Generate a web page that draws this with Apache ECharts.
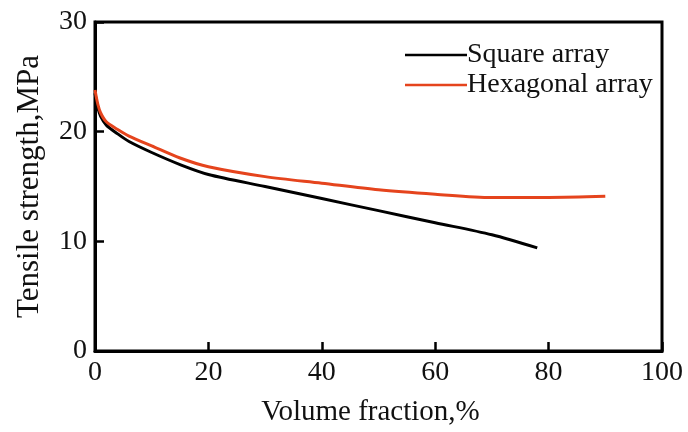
<!DOCTYPE html>
<html><head><meta charset="utf-8">
<script src="https://cdn.jsdelivr.net/npm/echarts@6/dist/echarts.min.js"></script>
<style>html,body{margin:0;padding:0;background:#fff}#c{width:688px;height:432px}</style>
</head><body><div id="c"></div>
<script>
var squareX = [0, 0.5, 1, 2, 4, 6, 10, 15, 20, 30, 40, 50, 60, 70, 78];
var squareY = [23.5, 22.2, 21.4, 20.6, 19.8, 19.1, 18.1, 17.0, 16.1, 15.0, 13.9, 12.8, 11.7, 10.6, 9.4];
var hexX = [0, 0.5, 1, 2, 4, 6, 10, 15, 20, 30, 40, 50, 60, 70, 80, 90];
var hexY = [23.8, 22.5, 21.7, 20.9, 20.2, 19.6, 18.7, 17.6, 16.8, 15.9, 15.3, 14.7, 14.3, 14.0, 14.0, 14.1];
var xTicks = [0, 20, 40, 60, 80, 100];
var yTicks = [0, 10, 20, 30];
var seriesNames = ['Square array', 'Hexagonal array'];

function pairs(xs, ys) { return xs.map(function (x, i) { return [x, ys[i]]; }); }
var font = 'Liberation Serif';
var chart = echarts.init(document.getElementById('c'));
chart.setOption({
  animation: false,
  grid: { left: 95, right: 26, top: 22, bottom: 80, show: true, borderColor: '#000', borderWidth: 3, backgroundColor: 'transparent' },
  legend: {
    orient: 'vertical', left: 405, top: 41, padding: 0, itemWidth: 62, itemHeight: 2.5, itemGap: 2,
    icon: 'rect',
    textStyle: { fontFamily: font, fontSize: 28, color: '#111', padding: [0, 0, 0, -5] },
    data: seriesNames
  },
  xAxis: {
    type: 'value', min: 0, max: 100, interval: 20,
    name: 'Volume fraction,%', nameLocation: 'middle', nameGap: 47,
    nameTextStyle: { fontFamily: font, fontSize: 29, color: '#111', padding: [0, 16, 0, 0] },
    axisLine: { lineStyle: { color: '#000', width: 3 } },
    axisTick: { inside: true, length: 9, lineStyle: { color: '#000', width: 2.5 } },
    axisLabel: { fontFamily: font, fontSize: 28, color: '#111', margin: 8,
      formatter: function (v) { return xTicks.indexOf(v) >= 0 ? String(v) : ''; } },
    splitLine: { show: false }
  },
  yAxis: {
    type: 'value', min: 0, max: 30, interval: 10,
    name: 'Tensile strength,MPa', nameLocation: 'middle', nameGap: 50,
    nameTextStyle: { fontFamily: font, fontSize: 31, color: '#111' },
    axisLine: { show: true, lineStyle: { color: '#000', width: 3 } },
    axisTick: { show: true, inside: true, length: 9, lineStyle: { color: '#000', width: 2.5 } },
    axisLabel: { fontFamily: font, fontSize: 28, color: '#111', margin: 8,
      formatter: function (v) { return yTicks.indexOf(v) >= 0 ? String(v) : ''; } },
    splitLine: { show: false }
  },
  series: [
    { name: seriesNames[0], type: 'line', smooth: 0.3, showSymbol: false, data: pairs(squareX, squareY),
      lineStyle: { color: '#000', width: 3 }, itemStyle: { color: '#000' } },
    { name: seriesNames[1], type: 'line', smooth: 0.3, showSymbol: false, data: pairs(hexX, hexY),
      lineStyle: { color: '#e5441d', width: 3 }, itemStyle: { color: '#e5441d' } }
  ]
});
</script></body></html>
